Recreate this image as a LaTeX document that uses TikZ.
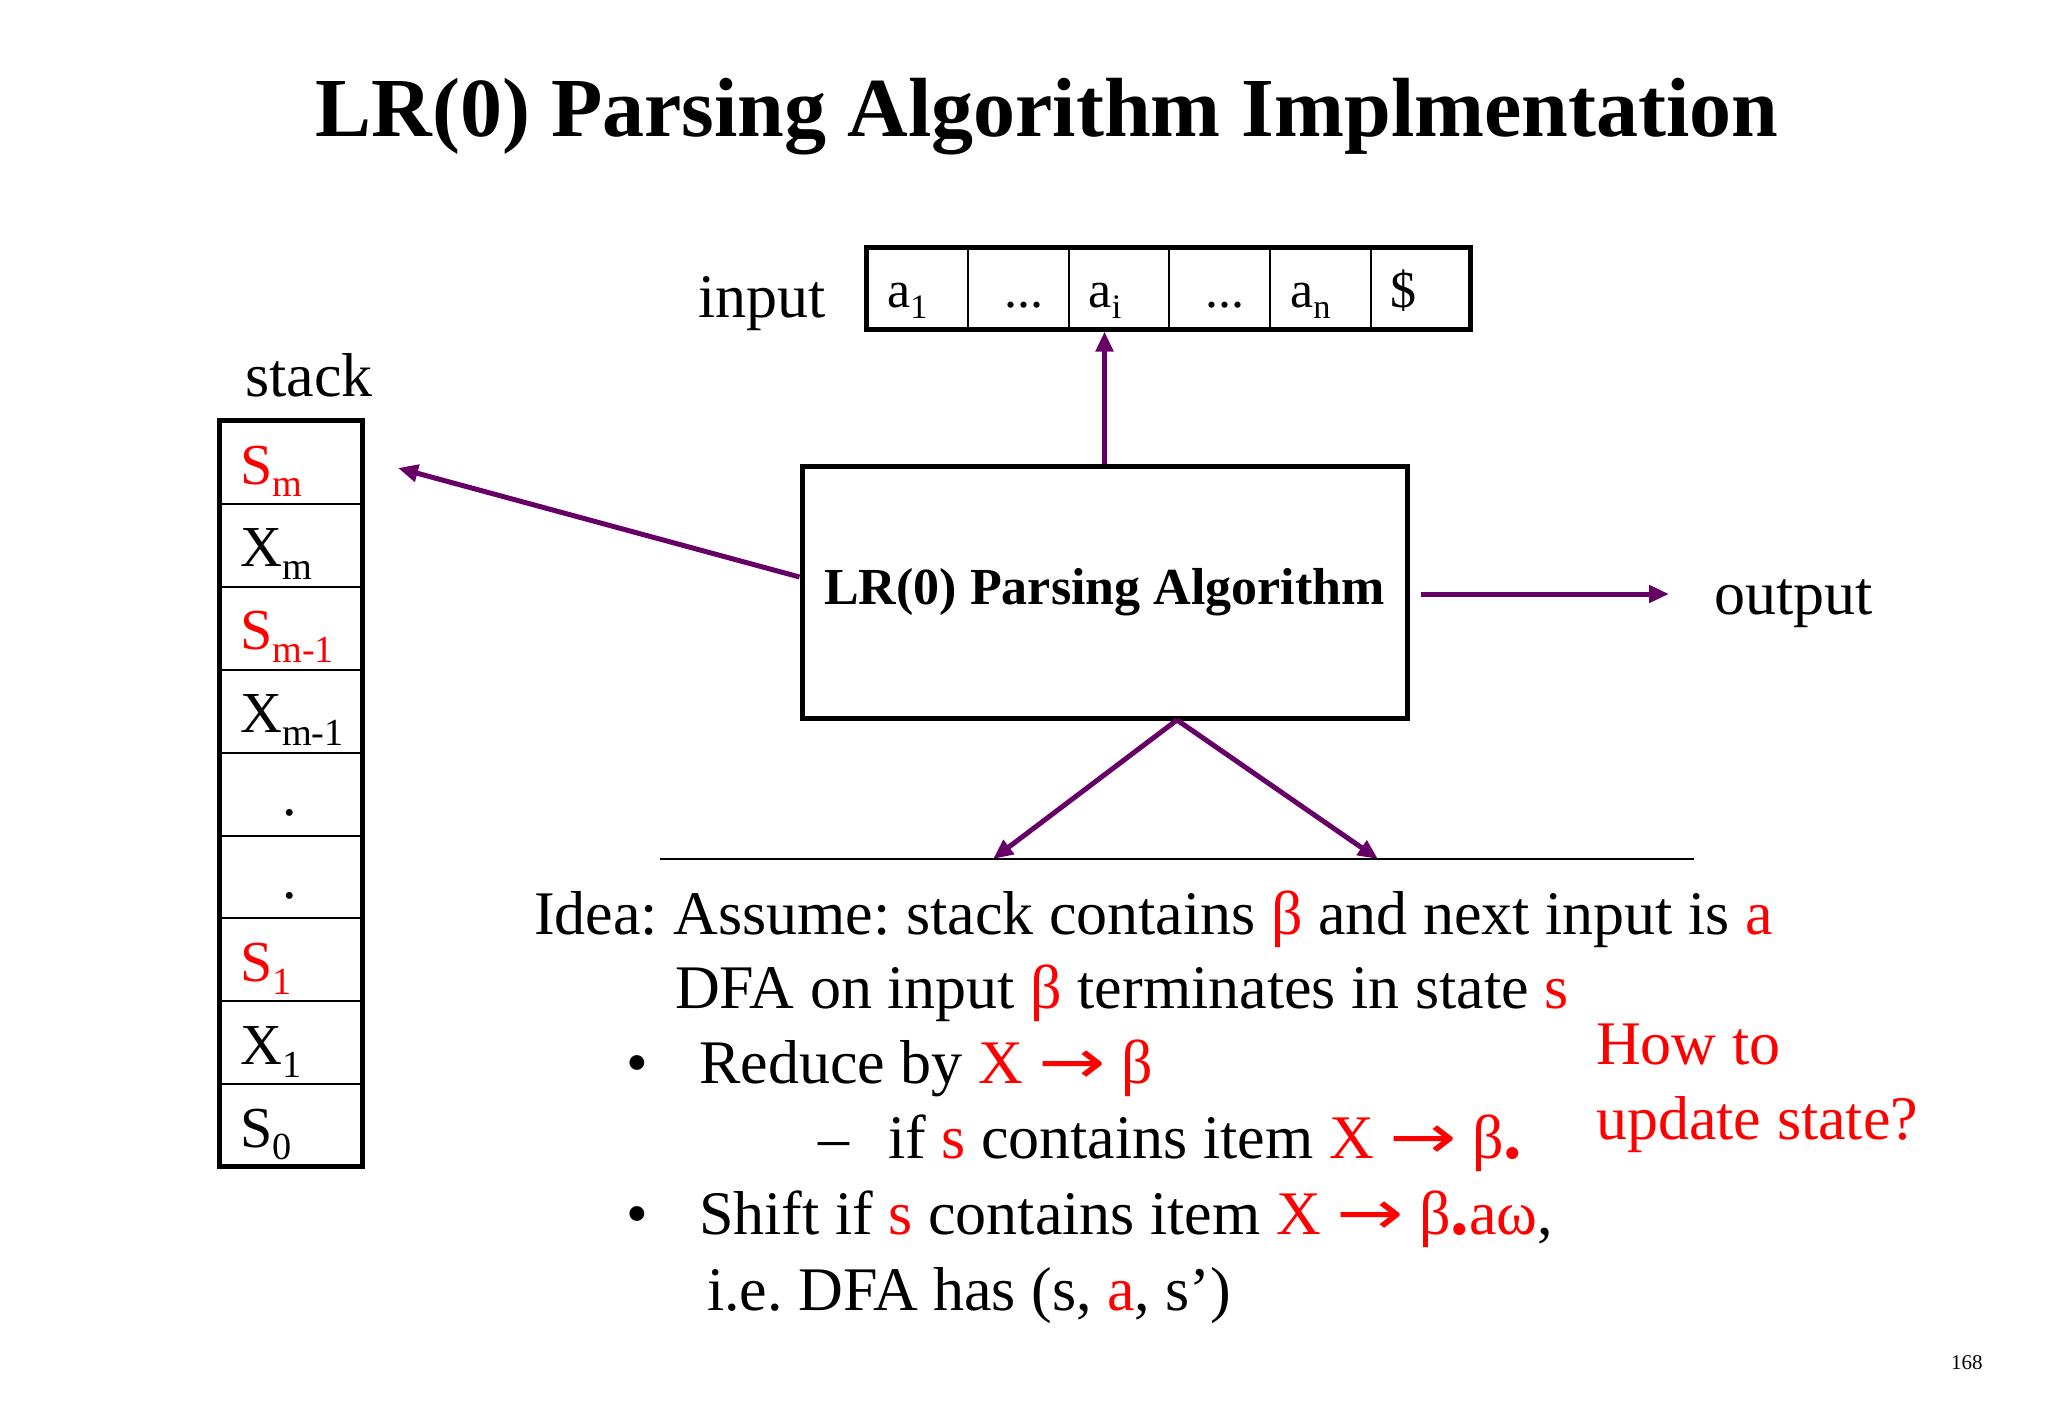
\documentclass[tikz,border=0pt]{standalone}
\usepackage{fontspec}
\setmainfont{Liberation Serif}
\newfontfamily\arrowfont{DejaVu Sans}
\usetikzlibrary{arrows.meta}
\definecolor{arrowpurple}{RGB}{102,0,102}
\definecolor{hred}{RGB}{255,0,0}
\newcommand{\dsub}[1]{\raisebox{-0.22em}{\scalebox{0.66}{#1}}}
\newcommand{\R}[1]{\textcolor{hred}{#1}}
\newcommand{\bigdot}{{\fontsize{74}{74}\selectfont\bfseries .}}
\newcommand{\rarr}{\scalebox{1.3}[1]{\arrowfont →}}
\frenchspacing
\begin{document}
\begin{tikzpicture}[x=1pt,y=-1pt,
  txt/.style={inner sep=0pt, anchor=base west, font=\fontsize{62}{75}\selectfont},
  celltxt/.style={inner sep=0pt, anchor=base west, font=\fontsize{52}{60}\selectfont},
  conn/.style={draw=arrowpurple, line width=5pt, -{Triangle[length=20pt,width=17pt]}},
  scell/.style={draw, line width=2pt, minimum width=143pt, minimum height=82.9pt, inner sep=0pt, anchor=north west},
  icell/.style={draw, line width=2pt, minimum width=100.8pt, minimum height=82pt, inner sep=0pt, anchor=north west},
  frame/.style={draw, line width=5pt}]
\useasboundingbox[fill=white] (0,0) rectangle (2048,1418);

% title
\node[inner sep=0pt, anchor=base, font=\fontsize{84}{90}\selectfont\bfseries] (title) at (1047,136) {LR(0) Parsing Algorithm Implmentation};

% input tape
\node[txt] (inputlbl) at (698,317) {input};
\foreach \i/\t/\dx in {0/{a\dsub{1}}/21, 1/{...}/37, 2/{a\dsub{i}}/21, 3/{...}/37, 4/{a\dsub{n}}/21, 5/{\$}/20} {
  \node[icell] (in\i) at (866+100.8*\i,247) {};
  \node[celltxt] (intxt\i) at (866+100.8*\i+\dx,307) {\t};
}
\node[frame, inner sep=0pt, minimum width=604.8pt, minimum height=82pt] (inbox) at (1168.4,288) {};

% stack
\node[txt] (stacklbl) at (245,396) {stack};
\foreach \i/\t/\dx in {0/{\R{S\dsub{m}}}/21, 1/{X\dsub{m}}/21, 2/{\R{S\dsub{m-1}}}/21, 3/{X\dsub{m-1}}/21, 4/{.}/63, 5/{.}/63, 6/{\R{S\dsub{1}}}/21, 7/{X\dsub{1}}/21, 8/{S\dsub{0}}/21} {
  \node[scell] (st\i) at (219,420+82.9*\i) {};
  \node[txt, font=\fontsize{58}{70}\selectfont] (sttxt\i) at (219+\dx,420+82.9*\i+64) {\t};
}
\node[frame, inner sep=0pt, minimum width=143pt, minimum height=746.1pt] (stackbox) at (290.5,793.05) {};

% algorithm box
\node[frame, minimum width=605pt, minimum height=252pt, inner sep=0pt, font=\fontsize{52}{60}\selectfont\bfseries] (algo) at (1104.5,592) {LR(0) Parsing Algorithm};

\node[txt] (output) at (1714,614) {output};

\coordinate (stackpt) at (398,468);
\coordinate (outtip) at (1669,594);
\coordinate (bsrc) at (1177,720);
\coordinate (ltip) at (993,859);
\coordinate (rtip) at (1378,859);
\coordinate (hl1) at (660,859);
\coordinate (hl2) at (1694,859);

\draw[line width=2.5pt] (hl1) -- (hl2);
\draw[conn] (algo.north) -- (algo.north |- inbox.south);
\draw[conn] ([yshift=15pt]algo.west) -- (stackpt);
\draw[conn] ([xshift=11pt,yshift=-2pt]algo.east) -- (outtip);
\draw[conn] (bsrc) -- (ltip);
\draw[conn] (bsrc) -- (rtip);

% text block
\node[txt] (l1) at (534,934) {Idea: Assume: stack contains \R{β} and next input is \R{a}};
\node[txt] (l2) at (675,1008) {DFA on input \R{β} terminates in state \R{s}};
\node[txt, anchor=base] (b1) at (637,1083) {•};
\node[txt] (l3) at (699,1083) {Reduce by \R{X \rarr\ β}};
\node[txt] (d1) at (818,1158) {–};
\node[txt] (l4) at (888,1158) {if \R{s} contains item \R{X \rarr\ β\bigdot}};
\node[txt, anchor=base] (b2) at (637,1234) {•};
\node[txt] (l5) at (699,1234) {Shift if \R{s} contains item \R{X \rarr\ β\bigdot aω},};
\node[txt] (l6) at (707,1310) {i.e. DFA has (s, \R{a}, s’)};
\node[txt, text=hred] (h1) at (1596,1064) {How to};
\node[txt, text=hred] (h2) at (1596,1139) {update state?};

\node[inner sep=0pt, anchor=base west, font=\fontsize{21}{24}\selectfont] (pnum) at (1951,1369) {168};
\end{tikzpicture}
\end{document}
